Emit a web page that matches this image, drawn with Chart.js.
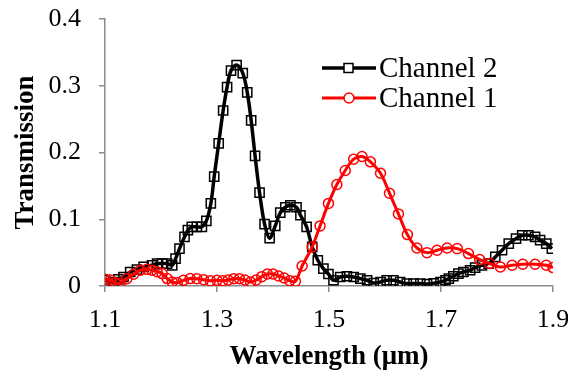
<!DOCTYPE html>
<html>
<head>
<meta charset="utf-8">
<script src="https://cdn.jsdelivr.net/npm/chart.js@4/dist/chart.umd.min.js"></script>
<style>
html,body{margin:0;padding:0;background:#fff;}
#wrap{width:568px;height:374px;position:relative;}
</style>
</head>
<body>
<div id="wrap"><canvas id="c" width="568" height="374"></canvas></div>
<script>
// Channel 2 (black, squares)
const ch2Wavelength = [1.100,1.115,1.124,1.133,1.145,1.157,1.169,1.184,1.193,1.202,1.211,1.220,1.226,1.233,1.242,1.248,1.255,1.264,1.273,1.281,1.289,1.295,1.303,1.311,1.318,1.325,1.335,1.346,1.354,1.361,1.368,1.376,1.385,1.394,1.404,1.413,1.422,1.431,1.442,1.449,1.460,1.470,1.480,1.490,1.499,1.508,1.520,1.532,1.544,1.556,1.568,1.580,1.592,1.603,1.615,1.627,1.639,1.651,1.663,1.675,1.687,1.699,1.708,1.714,1.722,1.731,1.740,1.752,1.761,1.773,1.785,1.797,1.809,1.821,1.834,1.845,1.856,1.868,1.877,1.888,1.898];
const ch2Values = [0.009,0.006,0.010,0.0135,0.021,0.0246,0.0286,0.031,0.0336,0.0336,0.0336,0.031,0.041,0.056,0.0736,0.0836,0.0886,0.0886,0.0886,0.0976,0.1237,0.164,0.2138,0.2629,0.298,0.3228,0.331,0.319,0.290,0.248,0.195,0.140,0.0927,0.0716,0.090,0.110,0.118,0.121,0.118,0.106,0.0886,0.0586,0.0386,0.026,0.018,0.0086,0.0135,0.0146,0.0135,0.011,0.0086,0.0045,0.006,0.0086,0.0086,0.006,0.0036,0.0036,0.0036,0.003,0.004,0.006,0.0086,0.011,0.0146,0.0185,0.021,0.0236,0.0276,0.031,0.0336,0.0436,0.0536,0.0636,0.071,0.076,0.076,0.0736,0.0686,0.0636,0.056];

// Channel 1 (red, circles)
const ch1Wavelength = [1.100,1.110,1.118,1.127,1.139,1.151,1.163,1.175,1.184,1.193,1.202,1.211,1.220,1.229,1.240,1.252,1.264,1.276,1.288,1.300,1.310,1.320,1.330,1.340,1.350,1.360,1.370,1.380,1.390,1.400,1.410,1.420,1.430,1.440,1.452,1.470,1.484,1.499,1.514,1.529,1.544,1.559,1.574,1.592,1.608,1.624,1.640,1.657,1.675,1.693,1.711,1.729,1.749,1.769,1.787,1.806,1.827,1.846,1.868,1.888,1.900];
const ch1Values = [0.010,0.009,0.005,0.0036,0.011,0.0176,0.0236,0.025,0.0236,0.0215,0.0186,0.0111,0.006,0.005,0.0085,0.0111,0.011,0.0095,0.008,0.0085,0.008,0.009,0.011,0.011,0.009,0.006,0.009,0.014,0.018,0.018,0.015,0.012,0.008,0.007,0.030,0.0586,0.090,0.1237,0.152,0.173,0.190,0.194,0.186,0.169,0.139,0.108,0.077,0.057,0.050,0.0536,0.057,0.056,0.0486,0.0396,0.0336,0.0285,0.031,0.0326,0.0326,0.031,0.0276];

const xTickValues = [1.1,1.3,1.5,1.7,1.9];
const yTickValues = [0,0.1,0.2,0.3,0.4];
const seriesNames = ['Channel 2','Channel 1'];
const xTitle = 'Wavelength (\u03bcm)';
const yTitle = 'Transmission';

const toPts = (xs, ys) => xs.map((x, i) => ({x: x, y: ys[i]}));
const FONT = '"Liberation Serif", "Times New Roman", serif';

const legendPlugin = {
  id: 'customLegend',
  afterDraw(chart) {
    const ctx = chart.ctx;
    const items = [
      {ds: chart.data.datasets[0], y: 68},
      {ds: chart.data.datasets[1], y: 98}
    ];
    ctx.save();
    items.forEach(it => {
      const ds = it.ds;
      ctx.strokeStyle = ds.borderColor;
      ctx.lineWidth = ds.borderWidth;
      ctx.beginPath();
      ctx.moveTo(322, it.y);
      ctx.lineTo(376, it.y);
      ctx.stroke();
      ctx.fillStyle = '#fff';
      ctx.lineWidth = ds.pointBorderWidth;
      ctx.strokeStyle = ds.pointBorderColor;
      if (ds.pointStyle === 'rect') {
        ctx.fillRect(344, it.y - 4.5, 9, 9);
        ctx.strokeRect(344, it.y - 4.5, 9, 9);
      } else {
        ctx.beginPath();
        ctx.arc(349, it.y, 5, 0, Math.PI * 2);
        ctx.fill();
        ctx.stroke();
      }
      ctx.fillStyle = '#000';
      ctx.font = '29px ' + FONT;
      ctx.textBaseline = 'middle';
      ctx.textAlign = 'left';
      ctx.fillText(ds.label, 379, it.y + 1);
    });
    ctx.restore();
  }
};

new Chart(document.getElementById('c'), {
  type: 'scatter',
  data: {
    datasets: [
      {
        label: seriesNames[0],
        data: toPts(ch2Wavelength, ch2Values),
        showLine: true,
        borderColor: '#000',
        borderWidth: 3.5,
        pointStyle: 'rect',
        pointRadius: 6.5,
        pointBorderWidth: 1.5,
        pointBorderColor: '#000',
        pointBackgroundColor: 'rgba(0,0,0,0)',
        tension: 0.35,
        order: 2
      },
      {
        label: seriesNames[1],
        data: toPts(ch1Wavelength, ch1Values),
        showLine: true,
        borderColor: '#ff0000',
        borderWidth: 3,
        pointStyle: 'circle',
        pointRadius: 5,
        pointBorderWidth: 1.5,
        pointBorderColor: '#ff0000',
        pointBackgroundColor: 'rgba(0,0,0,0)',
        tension: 0.35,
        order: 1
      }
    ]
  },
  options: {
    responsive: false,
    animation: false,
    devicePixelRatio: 1,
    layout: {padding: {left: 0, right: 15, top: 19, bottom: 0}},
    plugins: {legend: {display: false}, tooltip: {enabled: false}},
    scales: {
      x: {
        type: 'linear',
        min: 1.1, max: 1.9,
        afterBuildTicks: s => { s.ticks = xTickValues.map(v => ({value: v})); },
        afterFit: s => { s.height = 88; s.paddingLeft = 0; s.paddingRight = 0; s.paddingTop = 0; s.paddingBottom = 0; },
        grid: {display: true, drawOnChartArea: false, drawTicks: true, tickLength: 6, color: '#8c8c8c', lineWidth: 1.5},
        border: {display: true, color: '#8c8c8c', width: 1.5},
        ticks: {color: '#000', font: {family: FONT, size: 26}, padding: 13, callback: v => v.toFixed(1)},
        title: {display: true, text: xTitle, color: '#000', font: {family: FONT, size: 27, weight: 'bold'}, padding: {top: 0, bottom: 1}}
      },
      y: {
        type: 'linear',
        min: 0, max: 0.4,
        afterBuildTicks: s => { s.ticks = yTickValues.map(v => ({value: v})); },
        afterFit: s => { s.width = 105; s.paddingLeft = 0; s.paddingRight = 0; s.paddingTop = 0; s.paddingBottom = 0; },
        grid: {display: true, drawOnChartArea: false, drawTicks: true, tickLength: 6, color: '#8c8c8c', lineWidth: 1.5},
        border: {display: true, color: '#8c8c8c', width: 1.5},
        ticks: {color: '#000', font: {family: FONT, size: 26}, padding: 18, callback: v => (v === 0 ? '0' : v.toFixed(1))},
        title: {display: true, text: yTitle, color: '#000', font: {family: FONT, size: 27, weight: 'bold'}, padding: {top: 10, bottom: 0}}
      }
    }
  },
  plugins: [legendPlugin]
});
</script>
</body>
</html>
